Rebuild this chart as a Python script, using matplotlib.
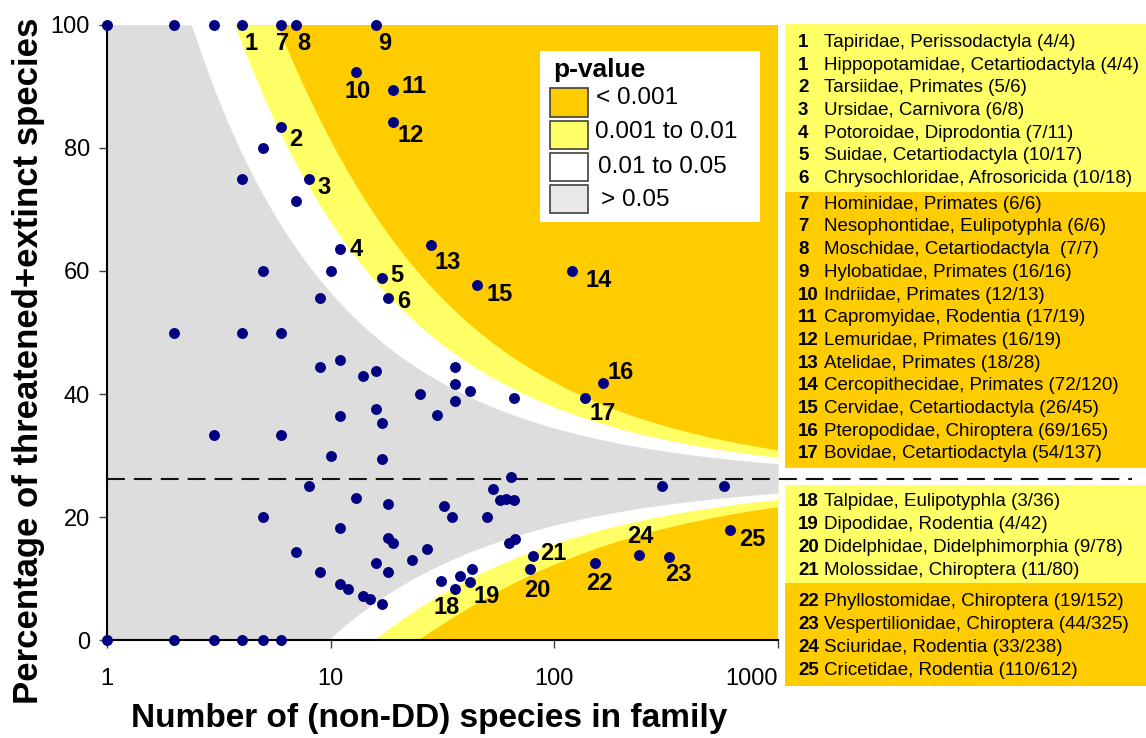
import math

import matplotlib
matplotlib.use('Agg')
import matplotlib.pyplot as plt
import numpy as np
from matplotlib.patches import Rectangle
from matplotlib.ticker import NullLocator

plt.rcParams['font.family'] = ['Liberation Sans', 'DejaVu Sans']

# overall share of threatened+extinct species (dashed line), in %
base_rate = 26.2
# tail probabilities where the shaded zones change (upper and lower side),
# read off the drawn zone edges: ~0.05, ~0.01, ~0.001
upper_alphas = [0.041, 0.0068, 0.00045]
lower_alphas = [0.052, 0.009, 0.0006]

# numbered families shown in the table: number, name, threatened (k) / total (n)
fam_ids = ['1', '1', '2', '3', '4', '5', '6',
           '7', '7', '8', '9', '10', '11', '12', '13', '14', '15', '16', '17',
           '18', '19', '20', '21',
           '22', '23', '24', '25']
fam_names = ['Tapiridae, Perissodactyla', 'Hippopotamidae, Cetartiodactyla',
             'Tarsiidae, Primates', 'Ursidae, Carnivora', 'Potoroidae, Diprodontia',
             'Suidae, Cetartiodactyla', 'Chrysochloridae, Afrosoricida',
             'Hominidae, Primates', 'Nesophontidae, Eulipotyphla',
             'Moschidae, Cetartiodactyla ', 'Hylobatidae, Primates',
             'Indriidae, Primates', 'Capromyidae, Rodentia', 'Lemuridae, Primates',
             'Atelidae, Primates', 'Cercopithecidae, Primates',
             'Cervidae, Cetartiodactyla', 'Pteropodidae, Chiroptera',
             'Bovidae, Cetartiodactyla',
             'Talpidae, Eulipotyphla', 'Dipodidae, Rodentia',
             'Didelphidae, Didelphimorphia', 'Molossidae, Chiroptera',
             'Phyllostomidae, Chiroptera', 'Vespertilionidae, Chiroptera',
             'Sciuridae, Rodentia', 'Cricetidae, Rodentia']
fam_k = [4, 4, 5, 6, 7, 10, 10, 6, 6, 7, 16, 12, 17, 16, 18, 72, 26, 69, 54,
         3, 4, 9, 11, 19, 44, 33, 110]
fam_n = [4, 4, 6, 8, 11, 17, 18, 6, 6, 7, 16, 13, 19, 19, 28, 120, 45, 165, 137,
         36, 42, 78, 80, 152, 325, 238, 612]
# table blocks: (first row, last row + 1, p-value class)
table_blocks = [(0, 7, '0.001 to 0.01'), (7, 19, '< 0.001'),
                (19, 23, '0.001 to 0.01'), (23, 27, '< 0.001')]

# other families (not numbered): threatened (k) / total (n)
other_n = [1, 2, 3, 5, 4, 7, 5, 10, 9, 2, 4, 6, 9, 11, 14, 16, 25, 30, 11, 16,
           17, 3, 6, 10, 17, 8, 13, 18, 5, 11, 7, 18, 19, 27, 23, 16, 18, 9, 11,
           12, 14, 15, 17, 31, 38, 43, 32, 35, 53, 64, 57, 61, 66, 50, 63, 67,
           303, 575, 36, 36, 36, 42, 66, 1, 2, 3, 4, 5, 6]
other_k = [1, 2, 3, 4, 3, 5, 3, 6, 5, 1, 2, 3, 4, 5, 6, 7, 10, 11, 4, 6,
           6, 1, 2, 3, 5, 2, 3, 4, 1, 2, 1, 3, 3, 4, 3, 2, 2, 1, 1,
           1, 1, 1, 1, 3, 4, 5, 7, 7, 13, 17, 13, 14, 15, 10, 10, 11,
           76, 144, 16, 15, 14, 17, 26, 0, 0, 0, 0, 0, 0]

legend_labels = ['< 0.001', '0.001 to 0.01', '0.01 to 0.05', '> 0.05']
zone_colors = {'< 0.001': '#FFCC00', '0.001 to 0.01': '#FFFF66',
               '0.01 to 0.05': '#FFFFFF', '> 0.05': '#DDDDDD'}

W, H = 1146, 738


def fx(px):
    return px / W


def fy(py):
    return 1 - py / H


def betacf(a, b, x):
    # continued fraction for the incomplete beta function
    tiny = 1e-30
    qab, qap, qam = a + b, a + 1.0, a - 1.0
    c = 1.0
    d = 1.0 - qab * x / qap
    d = 1.0 / (d if abs(d) > tiny else tiny)
    h = d
    for m in range(1, 400):
        m2 = 2 * m
        aa = m * (b - m) * x / ((qam + m2) * (a + m2))
        d = 1.0 + aa * d
        d = 1.0 / (d if abs(d) > tiny else tiny)
        c = 1.0 + aa / c
        c = c if abs(c) > tiny else tiny
        h *= d * c
        aa = -(a + m) * (qab + m) * x / ((a + m2) * (qap + m2))
        d = 1.0 + aa * d
        d = 1.0 / (d if abs(d) > tiny else tiny)
        c = 1.0 + aa / c
        c = c if abs(c) > tiny else tiny
        de = d * c
        h *= de
        if abs(de - 1.0) < 1e-10:
            break
    return h


def betai(a, b, x):
    if x <= 0:
        return 0.0
    if x >= 1:
        return 1.0
    bt = math.exp(math.lgamma(a + b) - math.lgamma(a) - math.lgamma(b)
                  + a * math.log(x) + b * math.log(1 - x))
    if x < (a + 1) / (a + b + 2):
        return bt * betacf(a, b, x) / a
    return 1.0 - bt * betacf(b, a, 1 - x) / b


def upper_edge(n, alpha, p):
    # smallest share k/n with P(X >= k) <= alpha
    if p ** n > alpha:
        return 100.0
    lo, hi = n * p, float(n)
    for _ in range(40):
        mid = (lo + hi) / 2
        if betai(mid, n - mid + 1, p) > alpha:
            lo = mid
        else:
            hi = mid
    return 100 * hi / n


def lower_edge(n, alpha, p):
    # largest share k/n with P(X <= k) <= alpha
    if (1 - p) ** n > alpha:
        return 0.0
    lo, hi = 0.0, n * p
    for _ in range(40):
        mid = (lo + hi) / 2
        if betai(n - mid, mid + 1, 1 - p) > alpha:
            hi = mid
        else:
            lo = mid
    return 100 * lo / n


fig = plt.figure(figsize=(W / 100, H / 100), dpi=100)
ax = fig.add_axes([fx(107), fy(640.3), (778 - 107) / W, (640.3 - 24.7) / H])

# shaded p-value zones
p0 = base_rate / 100
grid = np.logspace(0, 3, 260)
ax.fill_between(grid, 0, 100, color=zone_colors['< 0.001'], lw=0)
for a_up, a_low, zone in zip(upper_alphas[::-1], lower_alphas[::-1],
                             ['0.001 to 0.01', '0.01 to 0.05', '> 0.05']):
    up = [upper_edge(n, a_up, p0) for n in grid]
    low = [lower_edge(n, a_low, p0) for n in grid]
    ax.fill_between(grid, low, up, color=zone_colors[zone], lw=0)

# base rate line, continued across the table gap
ax.plot([0, (1132 - 107) / (778 - 107)], [base_rate, base_rate],
        transform=ax.get_yaxis_transform(), color='#111111', lw=1.5,
        dashes=(8.6, 4.3), clip_on=False, zorder=4)

# all families as dots
pts = {}
for n, k in zip(other_n + fam_n, other_k + fam_k):
    pts[(n, k)] = 1
xs = np.array([p[0] for p in pts])
ys = np.array([100 * p[1] / p[0] for p in pts])
ax.scatter(xs, ys, s=62, color='#000080', zorder=5, clip_on=False, lw=0)

# number labels next to the numbered dots (offsets in pixels, y down)
label_off = {'1': (9, 19), '2': (15, 12), '3': (15, 9), '4': (16, 1),
             '5': (15, -3), '6': (16, 3), '7': (2, 19), '8': (8, 19),
             '9': (8, 19), '10': (1, 19), '11': (21, -3), '12': (18, 14),
             '13': (17, 18), '14': (27, 10), '15': (23, 10), '16': (18, -10),
             '17': (18, 16), '18': (-8, 19), '19': (17, 15), '20': (7, 21),
             '21': (21, -2), '22': (4, 20), '23': (10, 18), '24': (2, -18),
             '25': (22, 10)}
done = set()
for fid, n, k in zip(fam_ids, fam_n, fam_k):
    if fid in done:
        continue
    done.add(fid)
    dx, dy = label_off[fid]
    ax.annotate(fid, (n, 100 * k / n), xytext=(dx, -dy), textcoords='offset pixels',
                ha='center', va='center', fontsize=17, fontweight='bold',
                annotation_clip=False, zorder=6)

ax.set_xscale('log')
ax.set_xlim(1, 1000)
ax.set_ylim(0, 100)
ax.set_xticks([1, 10, 100, 1000])
ax.set_xticklabels(['1', '10', '100', '1000'])
ax.get_xticklabels()[-1].set_horizontalalignment('right')
ax.xaxis.set_minor_locator(NullLocator())
ax.set_yticks([0, 20, 40, 60, 80, 100])
for side in ['top', 'right']:
    ax.spines[side].set_visible(False)
for side in ['left', 'bottom']:
    ax.spines[side].set_linewidth(1.5)
    ax.spines[side].set_color('black')
ax.tick_params(direction='out', length=5.8, width=1, color='#404040', labelsize=17)
ax.tick_params(axis='y', pad=6.5)
ax.tick_params(axis='x', pad=14.5)

fig.text(fx(429), fy(719), 'Number of (non-DD) species in family', ha='center',
         va='center', fontsize=24, fontweight='bold')
fig.text(fx(29), fy(361), 'Percentage of threatened+extinct species', rotation=90,
         ha='center', va='center', fontsize=25, fontweight='bold')

# legend box
fig.add_artist(Rectangle((fx(540), fy(222)), 220 / W, 171 / H, transform=fig.transFigure,
                         facecolor='white', edgecolor='none', zorder=3))
fig.text(fx(553), fy(70), 'p-value', ha='left', va='center', fontsize=19,
         fontweight='bold', zorder=4)
patch_tops = [88.3, 120.7, 152.7, 185]
text_pos = [(596, 98.3), (595, 132), (598, 167), (601, 200)]
for lab, top, (tx, ty) in zip(legend_labels, patch_tops, text_pos):
    fig.add_artist(Rectangle((fx(550), fy(top + 28.3)), 38.3 / W, 28.3 / H,
                             transform=fig.transFigure, lw=1.2, edgecolor='#404040',
                             facecolor='#E8E8E8' if lab == '> 0.05' else zone_colors[lab],
                             zorder=4))
    fig.text(fx(tx), fy(ty), lab, ha='left', va='center', fontsize=17.5, zorder=5)

# family table on the right
block_px = [(24, 192, 42.3), (192, 468, 204.3), (485, 583, 502), (583, 686, 602)]
for (r0, r1, zone), (top, bottom, first) in zip(table_blocks, block_px):
    fig.add_artist(Rectangle((fx(785), fy(bottom)), (1146 - 785) / W, (bottom - top) / H,
                             transform=fig.transFigure, facecolor=zone_colors[zone],
                             edgecolor='none', zorder=1))
    for j, i in enumerate(range(r0, r1)):
        yy = first + 22.7 * j
        fig.text(fx(798), fy(yy), fam_ids[i], ha='left', va='center',
                 fontsize=13.5, fontweight='bold', zorder=2)
        fig.text(fx(824), fy(yy), f'{fam_names[i]} ({fam_k[i]}/{fam_n[i]})',
                 ha='left', va='center', fontsize=13.5, zorder=2)

fig.savefig('out.png', dpi=100)
